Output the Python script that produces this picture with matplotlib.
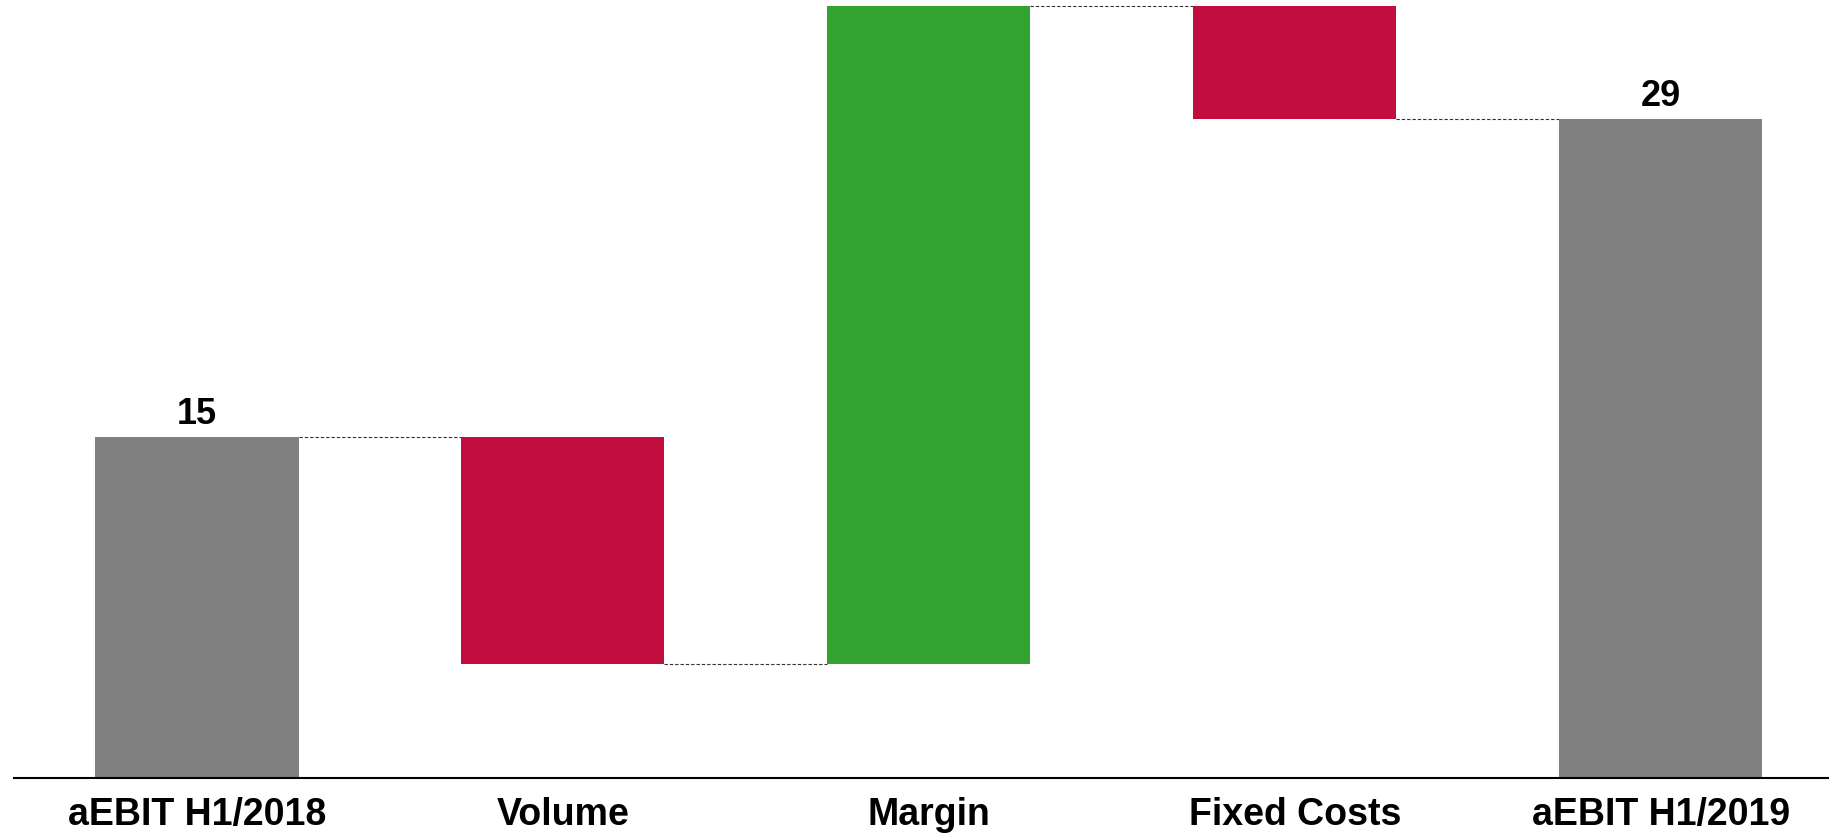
import matplotlib.pyplot as plt

# waterfall data
categories = ["aEBIT H1/2018", "Volume", "Margin", "Fixed Costs", "aEBIT H1/2019"]
changes = [15, -10, 29, -5, 29]
kinds = ["total", "delta", "delta", "delta", "total"]

plt.rcParams['font.family'] = ['Liberation Sans', 'DejaVu Sans']

fig = plt.figure(figsize=(18.29, 8.38), dpi=100)
ax = fig.add_axes([0.0077, 0.0716, 0.9923, 0.9284])

bottoms, heights, colors = [], [], []
running = 0
for val, kind in zip(changes, kinds):
    if kind == "total":
        bottoms.append(0)
        heights.append(val)
        colors.append("#808080")
        running = val
    else:
        start = running
        running = running + val
        bottoms.append(min(start, running))
        heights.append(abs(val))
        colors.append("#33a32f" if val > 0 else "#c20e3f")

x = list(range(len(categories)))
width = 0.555
ax.bar(x, heights, bottom=bottoms, width=width, color=colors, zorder=2)

# connectors between bars
level = 0
for i, (val, kind) in enumerate(zip(changes, kinds)):
    level = val if kind == "total" else level + val
    if i < len(categories) - 1:
        ax.plot([i + width / 2, i + 1 - width / 2], [level, level],
                ls=(0, (3, 1.8)), color="#333333", lw=0.8, zorder=1)

# value labels on the totals
for i, (val, kind) in enumerate(zip(changes, kinds)):
    if kind == "total":
        ax.text(i, val + 0.25, str(val), ha="center", va="bottom",
                fontsize=26, fontweight="bold")

ax.set_xlim(-0.5, 4.46)
ax.set_ylim(0, 34.26)
ax.set_xticks(x)
ax.set_xticklabels(categories, fontsize=27, fontweight="bold")
ax.tick_params(axis="x", length=0, pad=14)
ax.set_yticks([])
for side in ["top", "right", "left"]:
    ax.spines[side].set_visible(False)
ax.spines["bottom"].set_linewidth(1.5)
ax.spines["bottom"].set_zorder(3)

fig.savefig("out.png", dpi=100)
